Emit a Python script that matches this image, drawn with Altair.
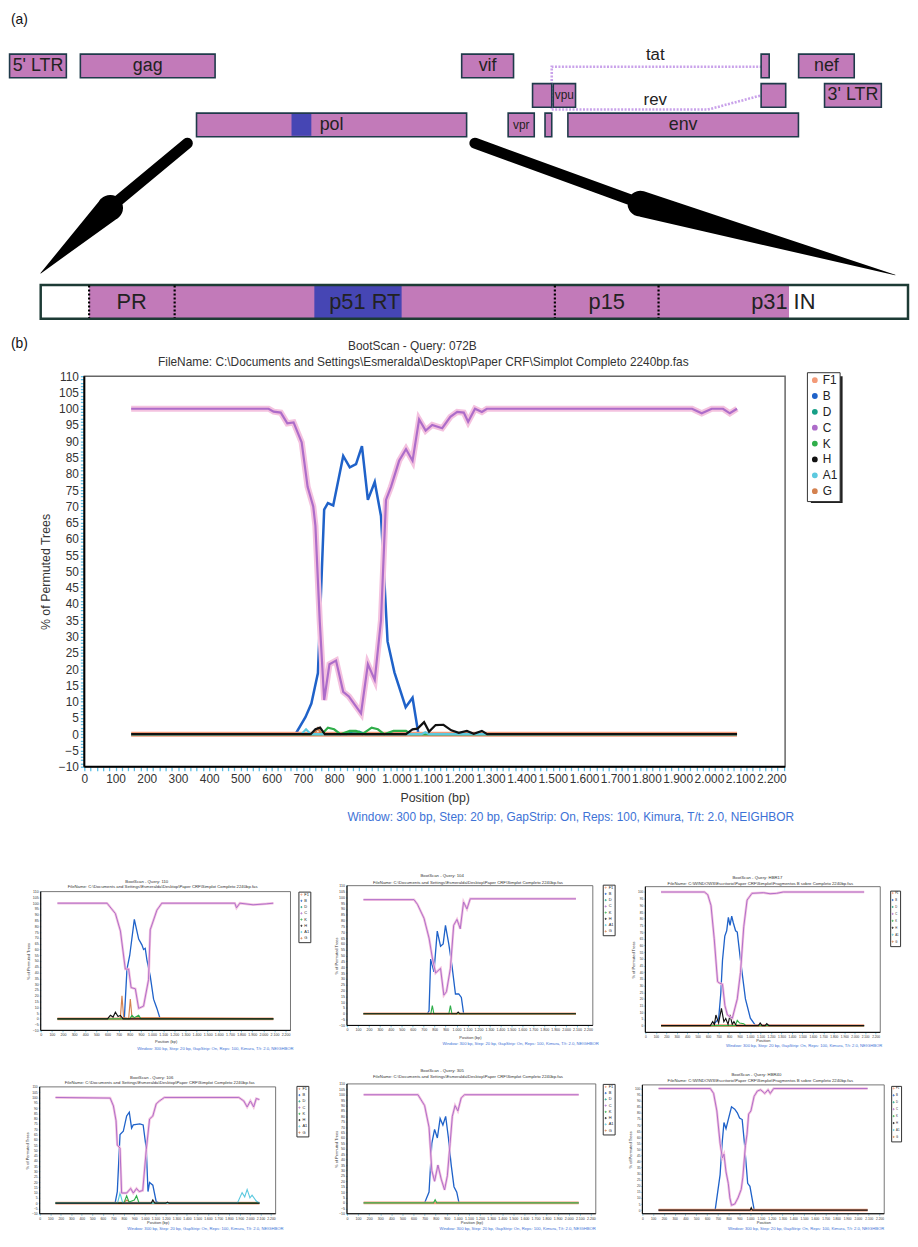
import altair as alt
import pandas as pd

FONT = "Liberation Sans"

# ------------------------------------------------------------------
# (a) HIV-1 genome map, HXB2 nucleotide coordinates
# ------------------------------------------------------------------
GENE_NAME = ["5' LTR", "gag", "vif", "tat exon 2", "nef", "tat exon 1", "vpu",
             "rev exon 2", "3' LTR", "pol", "vpr", "rev exon 1", "env"]
GENE_LABEL = ["5' LTR", "gag", "vif", "", "nef", "", "vpu", "", "3' LTR", "pol", "vpr", "", "env"]
GENE_START = [1, 790, 5041, 8379, 8797, 5831, 6062, 8379, 9086, 2085, 5559, 5970, 6225]
GENE_END = [634, 2292, 5619, 8469, 9417, 6045, 6310, 8653, 9719, 5096, 5850, 6045, 8795]
GENE_TRACK = [1, 1, 1, 1, 1, 2, 2, 2, 2, 3, 3, 3, 3]
SMALL_LABELS = ["vpu", "vpr"]
POL_HIGHLIGHT = [3144, 3365]

SPLICE_NAME = ["tat", "tat", "tat", "rev", "rev", "rev"]
SPLICE_NT = [6045, 6045, 8379, 6045, 7785, 8379]
SPLICE_TRACK = [2.45, 1.03, 1.03, 2.48, 2.48, 2.0]
SPLICE_LABEL_NT = [7199, 7199]
SPLICE_LABEL_TRACK = [0.63, 2.14]

POL_SEG_START = [2085, 2253, 4683]
POL_SEG_END = [2253, 4683, 5096]
POL_SEG_KIND = ["outside", "sequenced", "outside"]
POL_BLUE = [3035, 3338]
POL_BOUNDARY = [2253, 2550, 3870, 4230]
POL_PROT = ["PR", "p51 RT", "p15", "p31 IN"]
POL_PROT_MID = [2401, 3210, 4050, 4663]
POL_TRACK = 9

ARROW_ID = ["left"] * 4 + ["right"] * 4
ARROW_NT = [1983, 1144, 1122, 348, 5188, 6978, 7033, 9873]
ARROW_TRACK = [3.62, 5.74, 5.81, 8.03, 3.62, 5.60, 5.67, 8.09]
ARROW_WIDTH = [11, 11, 26, 0.5, 11, 11, 26, 0.5]

# ------------------------------------------------------------------
# (b) BootScan curves (position bp, % permuted trees)
# ------------------------------------------------------------------
SERIES = ["F1", "B", "D", "C", "K", "H", "A1", "G"]
SERIES_COLOR = ["#f39a78", "#1f62c9", "#169f86", "#ad6cc9", "#2fae4a", "#111111", "#5cc9df", "#d4814f"]
PLOT_X = [0, 2244]
FLAT_X = [150, 2090]
FLAT_Y = [0, 0]

Q072B = {
    "F1": (FLAT_X, FLAT_Y),
    "G": ([150, 735, 748, 760, 2090], [0, 0, 1.8, 0, 0]),
    "D": ([150, 840, 860, 880, 900, 2090], [0, 0, 0.8, 0.8, 0, 0]),
    "K": ([150, 760, 780, 800, 820, 850, 870, 890, 920, 940, 960, 990, 1030, 1045, 2090],
          [0, 0, 2, 1.5, 0, 1, 1, 0, 2, 1.5, 0, 1, 1, 0, 0]),
    "A1": ([150, 695, 710, 725, 1080, 1092, 1104, 2090], [0, 0, 1.5, 0, 0, 0.6, 0, 0]),
    "H": ([150, 725, 740, 755, 770, 1030, 1051, 1067, 1088, 1104, 1125, 1150, 1175, 1199, 1225, 1247, 1273, 1290, 2090],
          [0, 0, 1.5, 2, 0, 0, 1.5, 1.7, 3.7, 0.8, 2.8, 2.9, 1.2, 0.4, 1, 0.1, 1, 0, 0]),
    "C": ([150, 590, 606, 629, 650, 670, 696, 715, 733, 740, 754, 768, 785, 806, 829, 847, 886, 908, 930, 950,
           966, 982, 1008, 1030, 1051, 1072, 1093, 1114, 1146, 1172, 1194, 1215, 1229, 1251, 1273, 1289, 1946,
           1977, 2009, 2045, 2067, 2090],
          [100, 100, 99.1, 98.8, 95.5, 95.8, 89.7, 76, 70, 64, 34.5, 10.5, 21.5, 22.6, 13, 11.6, 6.4, 21.5, 16.7, 35,
           72, 76, 84, 87.6, 84, 96.7, 93.3, 95, 94, 97.5, 99, 98.8, 96, 100, 99, 100, 100,
           98.6, 100, 100, 98.6, 100]),
    "B": ([150, 676, 708, 727, 748, 768, 780, 797, 829, 850, 870, 889, 908, 930, 950, 971, 993, 1029, 1051, 1070, 2090],
          [0, 0, 5.2, 9.4, 18.8, 69, 71, 70.3, 85.5, 82, 83, 88.5, 72, 77.5, 67, 28.5, 19, 8.3, 11.2, 0, 0]),
}

Q110 = {
    "F1": (FLAT_X, FLAT_Y),
    "G": ([150, 715, 730, 745, 790, 805, 820, 2090], [0, 0, 20, 1, 0, 17, 1, 0]),
    "K": ([150, 800, 820, 840, 880, 900, 2090], [0, 0, 3, 1, 3, 0, 0]),
    "H": ([150, 600, 626, 650, 671, 695, 716, 740, 2090], [0, 0, 3, 1.5, 5.7, 2, 3, 0, 0]),
    "C": ([150, 596, 671, 716, 760, 790, 812, 850, 880, 924, 969, 984, 1044, 1088, 1744, 1759, 1789, 1908, 2027, 2090],
          [100, 100, 91, 76, 43, 43, 27, 26, 9, 11, 34, 77, 94, 100, 100, 96, 100, 98.6, 99.4, 100]),
    "B": ([150, 751, 775, 800, 841, 880, 909, 924, 939, 954, 984, 1014, 1044, 1073, 2090],
          [0, 0, 43, 55, 86, 69, 64, 60, 61, 51, 37, 17, 9, 0, 0]),
}

Q104 = {
    "F1": (FLAT_X, FLAT_Y),
    "H": ([150, 1000, 1015, 1030, 2090], [0, 0, 1.5, 0, 0]),
    "K": ([150, 765, 779, 793, 930, 944, 958, 2090], [0, 0, 7, 0, 0, 7, 0, 0]),
    "C": ([150, 612, 643, 703, 749, 779, 809, 854, 884, 908, 944, 974, 1004, 1034, 1064, 1095, 1125, 2090],
          [98, 98, 94, 82, 65, 48, 35, 39, 16, 19, 39, 76, 81, 73, 96, 90, 98.7, 98.7]),
    "B": ([150, 733, 749, 764, 794, 824, 854, 878, 899, 929, 960, 990, 1020, 1044, 1065, 2090],
          [0, 0, 2.5, 47, 36, 71, 58, 60, 76, 60, 40, 17, 17, 14, 0, 0]),
}

QHBR_A = {
    "F1": (FLAT_X, FLAT_Y),
    "K": ([150, 860, 878, 900, 940, 960, 2090], [0, 0, 4, 2, 1.5, 0, 0]),
    "H": ([150, 620, 643, 660, 674, 700, 727, 750, 768, 790, 809, 830, 846, 870, 1080, 1097, 1115, 1145, 1160, 1180, 2090],
          [0, 0, 3, 1, 8, 2, 13, 3, 5.4, 1, 8, 1, 3, 0, 0, 2, 0, 0, 1.5, 0, 0]),
    "C": ([150, 564, 596, 627, 658, 690, 705, 737, 760, 784, 831, 878, 909, 940, 972, 1019, 1129, 1191, 1254, 1317, 2090],
          [100, 100, 98, 90, 65, 33, 32, 31, 15, 8, 5.6, 20, 40, 74, 94, 99, 99.5, 98.7, 99, 100, 100]),
    "B": ([150, 640, 700, 721, 737, 759, 777, 793, 809, 825, 840, 862, 878, 909, 956, 1003, 1050, 2090],
          [0, 0, 5, 24.5, 49, 67, 71, 81, 75, 82, 77, 71, 70, 49, 20, 5.6, 0.5, 0]),
}

Q106 = {
    "F1": (FLAT_X, FLAT_Y),
    "G": ([150, 790, 830, 870, 2090], [0, 0, 3, 0, 0]),
    "K": ([150, 800, 827, 850, 900, 921, 945, 2090], [0, 0, 7, 1, 3, 7, 0, 0]),
    "H": ([150, 1060, 1076, 1095, 1200, 1215, 1230, 2090], [0, 0, 3, 0, 0, 1, 0, 0]),
    "A1": ([150, 740, 764, 790, 1880, 1925, 1950, 1973, 2000, 2020, 2060, 2090],
           [0, 0, 9.6, 0, 0, 10, 6, 13, 5, 7.5, 2, 0]),
    "C": ([150, 670, 701, 726, 738, 764, 779, 827, 865, 890, 921, 946, 980, 1014, 1045, 1076, 1108, 1139, 1186,
           1894, 1941, 1973, 2004, 2035, 2060, 2090],
          [100, 99.4, 92, 78, 55, 52, 9.6, 9.6, 13.9, 9.6, 13.9, 11, 12, 51, 79.6, 82.5, 93.9, 96.7, 100,
           100, 96.7, 91, 96.7, 91, 99, 98]),
    "B": ([150, 717, 738, 764, 795, 827, 852, 874, 890, 952, 984, 1014, 1030, 1045, 1076, 1108, 1139, 2090],
          [0, 0, 11, 65, 68, 82.5, 86, 71, 74, 75, 74, 51, 11, 19.6, 17, 1.4, 0, 0]),
}

Q305 = {
    "F1": (FLAT_X, FLAT_Y),
    "K": ([150, 780, 795, 810, 2090], [0, 0, 3, 0, 0]),
    "C": ([150, 640, 700, 740, 765, 790, 820, 850, 880, 905, 930, 950, 975, 1000, 1030, 1060, 2090],
          [100, 100, 90, 70, 30, 20, 35, 22, 12, 25, 55, 80, 90, 85, 97, 100, 100]),
    "B": ([150, 700, 740, 765, 790, 815, 840, 865, 890, 915, 940, 965, 990, 1010, 2090],
          [0, 0, 10, 55, 68, 60, 78, 72, 80, 60, 35, 15, 10, 0, 0]),
}

QHBR_B = {
    "F1": (FLAT_X, FLAT_Y),
    "H": ([150, 1000, 1010, 1020, 2090], [0, 0, 2, 0, 0]),
    "C": ([150, 631, 661, 691, 721, 742, 757, 776, 797, 812, 827, 857, 887, 917, 932, 956, 971, 986, 1007, 1037,
           1067, 1097, 1136, 1166, 1187, 1218, 2090],
          [100, 100, 96, 81.6, 55, 43, 46, 31.5, 22, 10, 4, 5, 10, 17, 27, 53, 62.5, 79, 81.6, 93.6,
           98, 99, 96, 99, 96, 100, 100]),
    "B": ([150, 676, 721, 740, 757, 776, 797, 827, 857, 881, 902, 926, 947, 977, 998, 1022, 1037, 2090],
          [0, 0.5, 29, 55, 72, 67, 74.5, 85, 83, 80, 75.7, 74.5, 55, 22, 19.6, 7.6, 0.5, 0]),
}

WINDOW_TXT = "Window: 300 bp, Step: 20 bp, GapStrip: On, Reps: 100, Kimura, T/t: 2.0, NEIGHBOR"
FILE_A = "FileName: C:\\Documents and Settings\\Esmeralda\\Desktop\\Paper CRF\\Simplot Completo 2240bp.fas"
FILE_B = "FileName: C:\\WINDOWS\\Escritorio\\Paper CRF\\Simplot\\Fragmentos B sobre Completo 2240bp.fas"

TICK = "#5bbfe6"
HALO = "#f4c2df"
MAGENTA = "#c27ab9"
BLUE = "#4646b4"
XLABEL = "datum.value % 100 === 0 ? replace(format(datum.value, ','), ',', '.') : ''"
YLABEL = "datum.value % 5 === 0 ? datum.label : ''"


def label(text, x, y, size, color="#333", align="center"):
    return alt.Chart(alt.Data(values=[{"t": text}])).mark_text(
        font=FONT, fontSize=size, color=color, align=align, baseline="middle").encode(
        text="t:N", x=alt.value(x), y=alt.value(y))


def box(x0, x1, y0, y1, color):
    return alt.Chart(alt.Data(values=[{}])).mark_rect(color=color).encode(
        x=alt.value(x0), x2=alt.value(x1), y=alt.value(y0), y2=alt.value(y1))


def curves_df(curves):
    rows = []
    for s, (xs, ys) in curves.items():
        for x, y in zip(xs, ys):
            rows.append({"series": s, "x": x, "y": y})
    return pd.DataFrame(rows)


# ------------------------------------------------------------------
# Panel (a) layers (view shared with panel b: 908 x 832)
# ------------------------------------------------------------------
AB_W, AB_H = 908, 832
GDOM = [-5.5, 10027.6]
PDOM = [1974.9, 5099.5]
TDOM = [-0.714, (AB_H - 21.25) / 29.75]


def gx(field, dom=GDOM):
    return alt.X(field, type="quantitative", scale=alt.Scale(domain=dom, nice=False, zero=False), axis=None)


def ty(field):
    return alt.Y(field, type="quantitative",
                 scale=alt.Scale(domain=TDOM, nice=False, zero=False, reverse=True), axis=None)


genes = pd.DataFrame(dict(name=GENE_NAME, label=GENE_LABEL, start=GENE_START, end=GENE_END, track=GENE_TRACK))
genes["t0"] = genes["track"] - 0.4
genes["t1"] = genes["track"] + 0.4
genes["mid"] = (genes["start"] + genes["end"]) / 2
big_lab = genes[(genes["label"] != "") & (~genes["label"].isin(SMALL_LABELS))]
small_lab = genes[genes["label"].isin(SMALL_LABELS)]

pol_row = genes[genes["name"] == "pol"].iloc[0]
pol_hl = pd.DataFrame(dict(s=[POL_HIGHLIGHT[0]], e=[POL_HIGHLIGHT[1]],
                           t0=[pol_row["track"] - 0.37], t1=[pol_row["track"] + 0.37]))
splice = pd.DataFrame(dict(path=SPLICE_NAME, nt=SPLICE_NT, t=SPLICE_TRACK, i=list(range(len(SPLICE_NT)))))
splice_lab = pd.DataFrame(dict(name=["tat", "rev"], nt=SPLICE_LABEL_NT, t=SPLICE_LABEL_TRACK))
arrows = pd.DataFrame(dict(arrow=ARROW_ID, nt=ARROW_NT, t=ARROW_TRACK, w=ARROW_WIDTH, i=list(range(len(ARROW_NT)))))
pol_seg = pd.DataFrame(dict(s=POL_SEG_START, e=POL_SEG_END, kind=POL_SEG_KIND))
pol_seg["t0"] = POL_TRACK - 0.57
pol_seg["t1"] = POL_TRACK + 0.57
pol_frame = pd.DataFrame(dict(s=[pol_row["start"]], e=[pol_row["end"]], t0=[POL_TRACK - 0.57], t1=[POL_TRACK + 0.57]))
pol_blue = pd.DataFrame(dict(s=[POL_BLUE[0]], e=[POL_BLUE[1]], t0=[POL_TRACK - 0.55], t1=[POL_TRACK + 0.55]))
pol_div = pd.DataFrame(dict(nt=POL_BOUNDARY, t0=POL_TRACK - 0.55, t1=POL_TRACK + 0.55))
pol_lab = pd.DataFrame(dict(name=POL_PROT, nt=POL_PROT_MID, t=POL_TRACK))

panel_a = alt.layer(
    alt.Chart(splice).mark_line(strokeDash=[2, 1.5], strokeWidth=2.6, color="#c9a2ea").encode(
        x=gx("nt"), y=ty("t"), detail="path:N", order="i:Q"),
    alt.Chart(genes).mark_rect(fill=MAGENTA, stroke="#1f3a4a", strokeWidth=1.6).encode(
        x=gx("start"), x2="end", y=ty("t0"), y2="t1"),
    alt.Chart(pol_hl).mark_rect(fill=BLUE).encode(x=gx("s"), x2="e", y=ty("t0"), y2="t1"),
    alt.Chart(big_lab).mark_text(font=FONT, fontSize=18, color="#222").encode(
        x=gx("mid"), y=ty("track"), text="label:N"),
    alt.Chart(small_lab).mark_text(font=FONT, fontSize=12, color="#222").encode(
        x=gx("mid"), y=ty("track"), text="label:N"),
    alt.Chart(splice_lab).mark_text(font=FONT, fontSize=17, color="#222").encode(
        x=gx("nt"), y=ty("t"), text="name:N"),
    alt.Chart(arrows).mark_trail(color="black").encode(
        x=gx("nt"), y=ty("t"), size=alt.Size("w:Q", scale=None, legend=None), detail="arrow:N", order="i:Q"),
    alt.Chart(pol_seg).mark_rect().encode(
        x=gx("s", PDOM), x2="e", y=ty("t0"), y2="t1",
        color=alt.Color("kind:N", scale=alt.Scale(domain=["outside", "sequenced"], range=["white", MAGENTA]),
                        legend=None)),
    alt.Chart(pol_blue).mark_rect(fill=BLUE).encode(x=gx("s", PDOM), x2="e", y=ty("t0"), y2="t1"),
    alt.Chart(pol_frame).mark_rect(fill="transparent", stroke="#1d3b35", strokeWidth=2.5).encode(
        x=gx("s", PDOM), x2="e", y=ty("t0"), y2="t1"),
    alt.Chart(pol_div).mark_rule(color="black", strokeWidth=2.2, strokeDash=[2, 2]).encode(
        x=gx("nt", PDOM), y=ty("t0"), y2="t1"),
    alt.Chart(pol_lab).mark_text(font=FONT, fontSize=22, color="#222").encode(
        x=gx("nt", PDOM), y=ty("t"), text="name:N"),
    label("(a)", 2, 5, 14, "#111", "left"),
).resolve_scale(x="independent")


# ------------------------------------------------------------------
# Bootscan plot builder: all axes and texts are kept inside the view
# ------------------------------------------------------------------
def bootscan_layers(curves, c):
    df = curves_df(curves)
    W, H = c["W"], c["H"]
    L, R, T, B = c["plot"]
    kx = (R - L) / (PLOT_X[1] - PLOT_X[0])
    xd = [PLOT_X[0] - L / kx, PLOT_X[1] + (W - R) / kx]
    y0, y1 = c["ydom"]
    ky = (B - T) / (y1 - y0)
    yd = [y0 - (H - B) / ky, y1 + T / ky]
    xsc = alt.Scale(domain=xd, nice=False, zero=False)
    ysc = alt.Scale(domain=yd, nice=False, zero=False)
    common = dict(labelOverlap=False, labelFlush=False, labelFont=FONT, labelFontSize=c["fs"], labelColor="#333",
                  tickColor=TICK, tickSize=c["tick"], tickWidth=c["tickw"], domain=False, grid=False,
                  titleFont=FONT, titleFontSize=c["tfs"], titleFontWeight="normal", titleColor="#333",
                  titleBaseline="middle", titleAlign="center")
    xax = alt.Axis(values=c["xticks"], labelExpr=XLABEL, labelPadding=c["xlp"], offset=-(H - B),
                   titleX=(L + R) / 2, titleY=c["xty"], **common)
    yax = alt.Axis(values=c["yticks"], labelExpr=YLABEL, labelPadding=c["ylp"], offset=-L,
                   titleX=c["ytx"] - L, titleY=(T + B) / 2, titleAngle=270, **common)

    def X(f):
        return alt.X(f, type="quantitative", scale=xsc, axis=xax, title=c["xtitle"])

    def Y(f):
        return alt.Y(f, type="quantitative", scale=ysc, axis=yax, title="% of Permuted Trees")

    leg = alt.Legend(title=None, orient="none", legendX=c["leg"][0], legendY=c["leg"][1],
                     labelFont=FONT, labelFontSize=c["lfs"], labelColor="#222", symbolType="circle",
                     symbolSize=c["ss"], symbolStrokeWidth=c["ssw"], padding=c["lpad"], rowPadding=c["lrow"],
                     labelOffset=c["loff"], strokeColor="#333", fillColor="white")
    color = alt.Color("series:N", scale=alt.Scale(domain=SERIES, range=SERIES_COLOR), legend=leg)
    frame = pd.DataFrame(dict(x0=[PLOT_X[0]], x1=[PLOT_X[1]], y0=[y0], y1=[y1]))
    fr = alt.Chart(frame)
    base = alt.Chart(df)
    lw = c["lw"]
    sx0, sx1, sy0, sy1 = c["shadow"]
    layers = [
        fr.mark_rect(fill="transparent", stroke="#666", strokeWidth=c["frame"]).encode(
            x=X("x0"), x2="x1", y=Y("y0"), y2="y1"),
        fr.mark_rule(color="black", strokeWidth=c["dom"]).encode(x=X("x0"), y=Y("y0"), y2="y1"),
        fr.mark_rule(color="black", strokeWidth=c["dom"]).encode(x=X("x0"), x2="x1", y=Y("y0")),
        box(sx0, sx1, sy0, sy1, "#222"),
        base.transform_filter(alt.datum.series == "B").mark_line(strokeWidth=lw * 1.15).encode(
            x=X("x"), y=Y("y"), color=color),
        base.transform_filter(alt.datum.series == "F1").mark_line(strokeWidth=lw * 2.3).encode(
            x=X("x"), y=Y("y"), color=color),
        base.transform_filter(alt.FieldOneOfPredicate(field="series", oneOf=["G", "D", "K", "A1"])).mark_line(
            strokeWidth=lw).encode(x=X("x"), y=Y("y"), color=color),
        base.transform_filter(alt.datum.series == "H").mark_line(strokeWidth=lw).encode(
            x=X("x"), y=Y("y"), color=color),
        base.transform_filter(alt.datum.series == "C").mark_line(strokeWidth=lw * c["halo"], color=HALO).encode(
            x=X("x"), y=Y("y")),
        base.transform_filter(alt.datum.series == "C").mark_line(strokeWidth=lw * c["cw"]).encode(
            x=X("x"), y=Y("y"), color=color),
        label(c["title"], c["title_xy"][0], c["title_xy"][1], c["ttfs"]),
        label(c["fname"], c["fname_xy"][0], c["fname_xy"][1], c["ttfs"]),
        label(WINDOW_TXT, c["win_xy"][0], c["win_xy"][1], c["wfs"], "#3d72d6", "right"),
    ]
    if c.get("tag"):
        layers.append(label(c["tag"], c["tag_xy"][0], c["tag_xy"][1], 14, "#111", "left"))
    return layers


XT_FINE = list(range(0, 2241, 20))
YT_FINE = list(range(-10, 111, 1))
XT = list(range(0, 2201, 100))
YT = list(range(-10, 111, 5))
YT100 = list(range(0, 101, 5))

main_cfg = dict(W=AB_W, H=AB_H, plot=(76, 783, 364, 758), ydom=[-10, 110], xticks=XT_FINE, yticks=YT_FINE,
                fs=12, tfs=12.5, tick=4, tickw=1.3, dom=2, xlp=3, xty=31, ylp=2, ytx=37,
                xtitle="Position (bp)", lw=2.2, cw=1.0, halo=2.8, leg=[805, 360], lfs=12, ss=8, ssw=3, lpad=2,
                lrow=0, loff=2, shadow=[809, 841, 364, 492], title="BootScan - Query: 072B", title_xy=[407, 334],
                fname=FILE_A, fname_xy=[418, 350], ttfs=12, win_xy=[792, 809], wfs=12, frame=1.5,
                tag="(b)", tag_xy=[2, 332])

panel_b = alt.layer(*bootscan_layers(Q072B, main_cfg))
top = alt.layer(panel_a, panel_b).resolve_scale(x="independent", y="independent", color="independent").properties(
    width=AB_W, height=AB_H, view=alt.ViewBackground(stroke=None))


def mini(curves, W, H, plot, ydom, yticks, title, title_xy, fname, fname_xy, leg, shadow, lfs, lrow,
         win_xy, xty, ytx, xtitle, fs):
    c = dict(W=W, H=H, plot=plot, ydom=ydom, xticks=XT, yticks=yticks, fs=fs, tfs=4.0, tick=1.5, tickw=0.8,
             dom=1, xlp=1, xty=xty, ylp=1, ytx=ytx, xtitle=xtitle, lw=1.15, cw=0.85, halo=2.2, leg=leg,
             lfs=lfs, ss=1.2, ssw=1, lpad=1, lrow=lrow, loff=1, shadow=shadow, title=title, title_xy=title_xy,
             fname=fname, fname_xy=fname_xy, ttfs=4.3, win_xy=win_xy, wfs=4.2, frame=0.9)
    return alt.layer(*bootscan_layers(curves, c)).properties(
        width=W, height=H, view=alt.ViewBackground(stroke=None))


m1 = mini(Q110, 312, 220, (32, 284, 52, 192), [-10, 110], YT, "BootScan - Query: 110", [139, 42],
          FILE_A, [155, 47], [292, 52], [293.5, 304, 53.5, 99], 4.0, 0.3, [287, 211], 11, 20,
          "Position (bp)", 3.6)
m2 = mini(Q104, 300, 220, (29, 277, 46, 187), [-10, 110], YT, "BootScan - Query: 104", [125, 36],
          FILE_A, [151, 43], [287, 45], [288.5, 299, 46.5, 92], 4.0, 0.3, [283, 206], 12, 18,
          "Position (bp)", 3.6)
m3 = mini(QHBR_A, 296, 220, (30, 267, 47, 194), [-5, 104], YT100, "BootScan - Query: HBR17", [143, 38],
          FILE_B, [146, 44], [277, 51], [278.5, 287, 52.5, 83.5], 2.8, 0, [269, 208], 8.5, 18,
          "Position", 3.2)
m4 = mini(Q106, 312, 175, (31, 269, 29, 157), [-10, 110], YT, "BootScan - Query: 106", [144, 20],
          FILE_A, [152, 25], [290, 28], [291.5, 302, 29.5, 75], 4.0, 0.3, [277, 172], 9, 19,
          "Position (bp)", 3.4)
m5 = mini(Q305, 300, 175, (29, 280, 26, 157), [-10, 110], YT, "BootScan - Query: 305", [125, 13],
          FILE_A, [151, 19], [287, 26], [288.5, 299, 27.5, 73], 4.0, 0.3, [280, 172], 9, 18,
          "Position (bp)", 3.6)
m6 = mini(QHBR_B, 296, 175, (27, 271, 27, 157), [-3, 103], YT100, "BootScan - Query: HBR40", [142, 17],
          FILE_B, [146, 23], [278, 28], [279.5, 288, 29.5, 60.5], 2.8, 0, [271, 172], 9, 15,
          "Position", 3.2)

row1 = alt.hconcat(m1, m2, m3, spacing=0).resolve_scale(color="independent")
row2 = alt.hconcat(m4, m5, m6, spacing=0).resolve_scale(color="independent")

chart = alt.vconcat(top, row1, row2, spacing=0).resolve_scale(color="independent").properties(
    padding=0).configure(font=FONT)

chart.save("out.html", embed_options={"renderer": "svg", "actions": False})
